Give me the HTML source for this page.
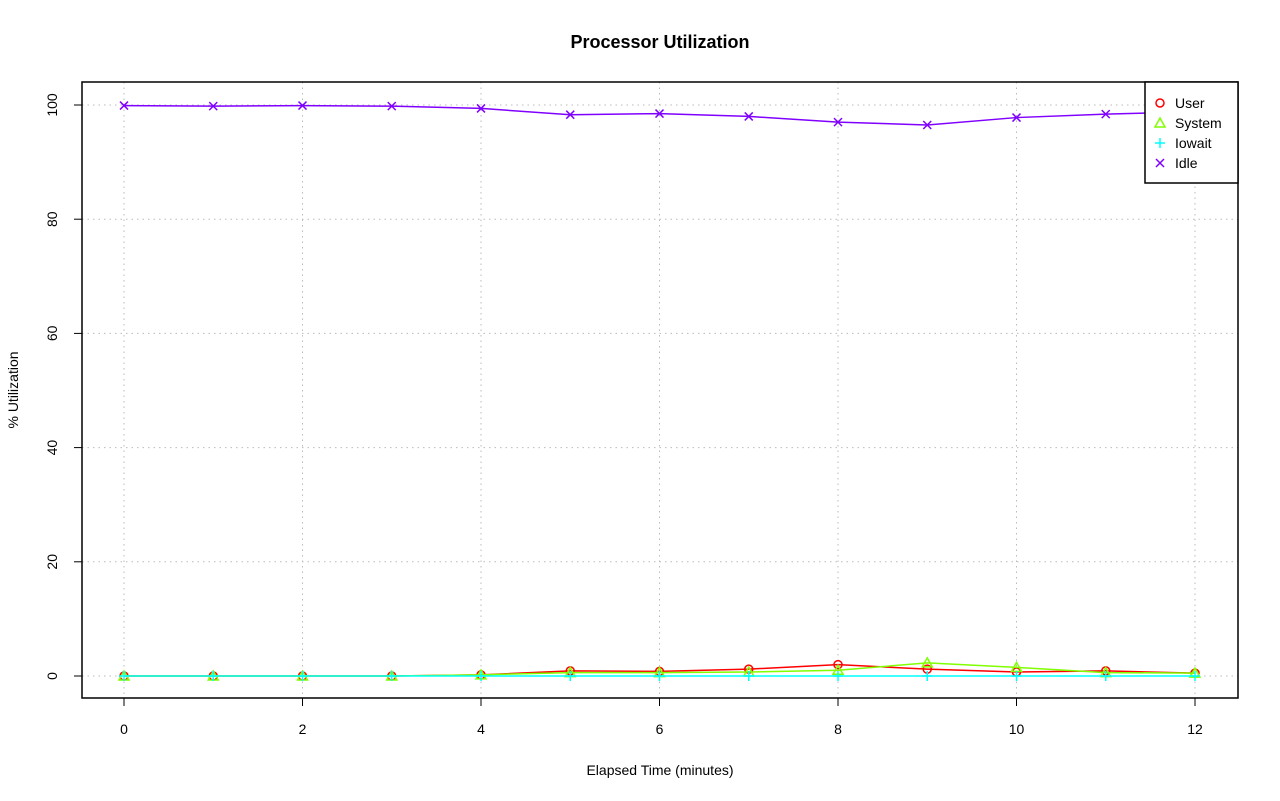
<!DOCTYPE html>
<html><head><meta charset="utf-8"><style>body{margin:0;background:#fff}svg{display:block;font-family:"Liberation Sans",sans-serif}</style></head>
<body>
<svg id="chart" width="1280" height="801">
<text x="660" y="48" text-anchor="middle" font-size="18" font-weight="bold">Processor Utilization</text>
<text x="660" y="775" text-anchor="middle" font-size="14">Elapsed Time (minutes)</text>
<text transform="translate(18,390) rotate(-90)" text-anchor="middle" font-size="14">% Utilization</text>
<g id="grid"></g><g id="axes"></g><g id="series"></g>
<rect x="82" y="82" width="1156" height="616" fill="none" stroke="#000" stroke-width="1.5"/>
<g>
<rect x="1145" y="82" width="93" height="101" fill="#fff" stroke="#000" stroke-width="1.5"/>
<circle cx="1160" cy="103" r="4" fill="none" stroke="#f00" stroke-width="1.5"/>
<text x="1175" y="108" font-size="14">User</text>
<path d="M1160 118 L1165 127 L1155 127 Z" fill="none" stroke="#80ff00" stroke-width="1.5"/>
<text x="1175" y="128" font-size="14">System</text>
<path d="M1155 143 H1165 M1160 138 V148" stroke="#00ffff" stroke-width="1.5"/>
<text x="1175" y="148" font-size="14">Iowait</text>
<path d="M1156 159 L1164 167 M1164 159 L1156 167" stroke="#8000ff" stroke-width="1.5"/>
<text x="1175" y="168" font-size="14">Idle</text>
</g>
</svg>
<script>
const minutes=[0,1,2,3,4,5,6,7,8,9,10,11,12];
const userVals=[0,0,0,0,0.2,0.9,0.8,1.2,2.0,1.2,0.7,0.9,0.5];
const systemVals=[0,0,0,0,0.2,0.6,0.6,0.7,1.0,2.3,1.5,0.6,0.5];
const iowaitVals=[0,0,0,0,0,0,0,0,0,0,0,0,0];
const idleVals=[99.9,99.8,99.9,99.8,99.4,98.3,98.5,98.0,97.0,96.5,97.8,98.4,98.8];
const xTicks=[0,2,4,6,8,10,12];
const yTicks=[0,20,40,60,80,100];
const NS="http://www.w3.org/2000/svg";
const xs=v=>124+v*(1195-124)/12;
const ys=v=>676-v*(676-105)/100;
function mk(tag,attrs,parent){const e=document.createElementNS(NS,tag);for(const k in attrs)e.setAttribute(k,attrs[k]);parent.appendChild(e);return e;}
const grid=document.getElementById('grid'),axes=document.getElementById('axes'),ser=document.getElementById('series');
xTicks.forEach(t=>{
 const g=mk('line',{x1:xs(t),x2:xs(t),y1:82,y2:698,stroke:'#bbb','stroke-dasharray':'1.5,4'},grid);
 
 
 const tk=mk('line',{x1:xs(t),x2:xs(t),y1:698,y2:706,stroke:'#000'},axes);
 
 
 const tx=mk('text',{x:xs(t),y:734,'text-anchor':'middle','font-size':14},axes);tx.textContent=t;
 
 
});
yTicks.forEach(t=>{
 const g=mk('line',{x1:82,x2:1238,y1:ys(t),y2:ys(t),stroke:'#bbb','stroke-dasharray':'1.5,4'},grid);
 
 
 const tk=mk('line',{x1:74,x2:82,y1:ys(t),y2:ys(t),stroke:'#000'},axes);
 
 
 const tx=mk('text',{transform:`translate(57,${ys(t)}) rotate(-90)`,'text-anchor':'middle','font-size':14},axes);tx.textContent=t;
 
 
});
function series(vals,color,shape,name){
 const pts=minutes.map((m,i)=>[xs(m),ys(vals[i])]);
 const l=mk('polyline',{points:pts.map(p=>p.join(',')).join(' '),fill:'none',stroke:color,'stroke-width':1.5},ser);
 
 
 pts.forEach(([x,y])=>{
  let e;
  if(shape==='o')e=mk('circle',{cx:x,cy:y,r:4,fill:'none',stroke:color,'stroke-width':1.5},ser);
  else if(shape==='t')e=mk('path',{d:`M${x} ${y-5} L${x+5} ${y+4} L${x-5} ${y+4} Z`,fill:'none',stroke:color,'stroke-width':1.5},ser);
  else if(shape==='+')e=mk('path',{d:`M${x-5} ${y} H${x+5} M${x} ${y-5} V${y+5}`,stroke:color,'stroke-width':1.5},ser);
  else e=mk('path',{d:`M${x-4} ${y-4} L${x+4} ${y+4} M${x+4} ${y-4} L${x-4} ${y+4}`,stroke:color,'stroke-width':1.5},ser);
  
  
 });
}
series(userVals,'#ff0000','o','user');
series(systemVals,'#80ff00','t','system');
series(iowaitVals,'#00ffff','+','iowait');
series(idleVals,'#8000ff','x','idle');
</script>
</body></html>
